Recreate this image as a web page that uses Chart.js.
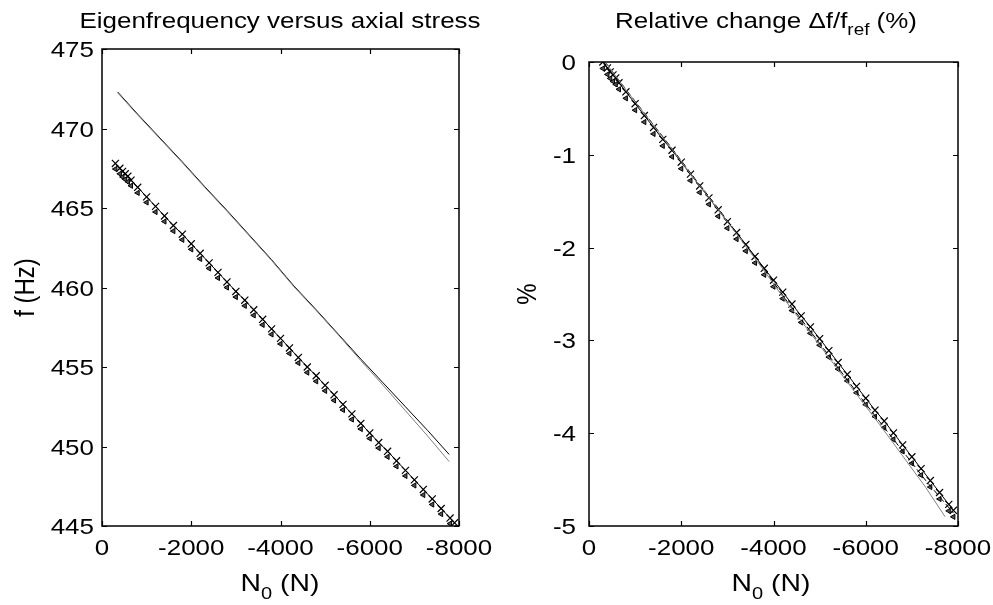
<!DOCTYPE html>
<html>
<head>
<meta charset="utf-8">
<script src="https://cdn.jsdelivr.net/npm/chart.js@4.4.1/dist/chart.umd.min.js"></script>
<style>
  html, body { margin: 0; padding: 0; background: #fff; }
  #wrap { position: relative; width: 993px; height: 605px; }
  .pane { position: absolute; top: 0; }
  #left { left: 0; }
  #right { left: 496px; }
</style>
</head>
<body>
<div id="wrap">
  <div class="pane" id="left"><canvas id="freqChart" width="496" height="605"></canvas></div>
  <div class="pane" id="right"><canvas id="relChart" width="497" height="605"></canvas></div>
</div>
<script>
// axial load N0 (N) of the marked measurement series
const loadPoints = [-300, -400, -460, -520, -580, -650, -800, -1000, -1200, -1400, -1600, -1800, -2000,
  -2200, -2400, -2600, -2800, -3000, -3200, -3400, -3600, -3800, -4000, -4200, -4400, -4600, -4800,
  -5000, -5200, -5400, -5600, -5800, -6000, -6200, -6400, -6600, -6800, -7000, -7200, -7400, -7600,
  -7800, -7900];
// eigenfrequency (Hz), x markers
const freqMarked = [467.8, 467.5, 467.3, 467.15, 467.0, 466.75, 466.3, 465.7, 465.1, 464.5, 463.9,
  463.35, 462.75, 462.15, 461.55, 460.95, 460.35, 459.75, 459.2, 458.6, 458.0, 457.4, 456.8, 456.2,
  455.6, 455.0, 454.45, 453.85, 453.25, 452.65, 452.05, 451.45, 450.85, 450.25, 449.7, 449.1, 448.5,
  447.9, 447.3, 446.7, 446.1, 445.5, 445.2];
// eigenfrequency (Hz), triangle markers
const freqTriangles = [467.45, 467.15, 466.95, 466.8, 466.65, 466.4, 465.95, 465.35, 464.75, 464.15,
  463.55, 463.0, 462.4, 461.8, 461.2, 460.6, 460.0, 459.4, 458.85, 458.25, 457.65, 457.05, 456.45,
  455.85, 455.25, 454.65, 454.1, 453.5, 452.9, 452.3, 451.7, 451.1, 450.5, 449.9, 449.35, 448.75,
  448.15, 447.55, 446.95, 446.35, 445.75, 445.15, 444.85];
// the two upper curves
const loadLines = [-350, -800, -1300, -1800, -2300, -2800, -3300, -3800, -4300, -4800, -5300, -5800,
  -6300, -6800, -7300, -7780];
const freqLineA = [472.3, 470.9, 469.4, 467.9, 466.35, 464.85, 463.3, 461.75, 460.1, 458.6, 457.05,
  455.5, 454.0, 452.5, 451.0, 449.5];
const freqLineB = [472.25, 470.85, 469.35, 467.85, 466.3, 464.8, 463.25, 461.7, 460.05, 458.55, 457.0,
  455.4, 453.85, 452.25, 450.65, 449.05];

// relative change (%)
const relMarked = [0, -0.064, -0.107, -0.139, -0.171, -0.224, -0.321, -0.449, -0.577, -0.705, -0.834,
  -0.951, -1.080, -1.208, -1.336, -1.464, -1.593, -1.721, -1.838, -1.967, -2.095, -2.223, -2.351,
  -2.480, -2.608, -2.736, -2.854, -2.982, -3.110, -3.239, -3.367, -3.495, -3.623, -3.752, -3.869,
  -3.997, -4.126, -4.254, -4.382, -4.510, -4.639, -4.767, -4.831];
const relTriangles = [-0.07, -0.134, -0.177, -0.209, -0.241, -0.294, -0.391, -0.519, -0.647, -0.775,
  -0.904, -1.021, -1.150, -1.278, -1.406, -1.534, -1.663, -1.791, -1.908, -2.037, -2.165, -2.293,
  -2.421, -2.550, -2.678, -2.806, -2.924, -3.052, -3.180, -3.309, -3.437, -3.565, -3.693, -3.822,
  -3.939, -4.067, -4.196, -4.324, -4.452, -4.580, -4.709, -4.837, -4.901];
const relLoadA = [-350, -800, -1300, -1800, -2300, -2800, -3300, -3800, -4300, -4800, -5300, -5800,
  -6300, -6800, -7300, -7900];
const relLineA = [0, -0.296, -0.614, -0.932, -1.260, -1.577, -1.906, -2.234, -2.583, -2.901, -3.229,
  -3.557, -3.875, -4.192, -4.510, -4.86];
const relLoadB = [-350, -800, -1300, -1800, -2300, -2800, -3300, -3800, -4300, -4800, -5300, -5800,
  -6300, -6800, -7300, -7720];
const relLineB = [0, -0.30, -0.62, -0.94, -1.27, -1.59, -1.92, -2.25, -2.60, -2.92, -3.25, -3.58,
  -3.906, -4.245, -4.584, -4.90];

// tick labels
const loadTicks = [0, -2000, -4000, -6000, -8000];
const freqTicks = [475, 470, 465, 460, 455, 450, 445];
const relTicks = [0, -1, -2, -3, -4, -5];

const FONT = '"Liberation Sans", Arial, Helvetica, sans-serif';
const SX = 1.18; // the original figure text is a bit wide

const pts = (xs, ys) => xs.map((v, i) => ({ x: v, y: ys[i] }));

function wideText(ctx, str, x, y, align) {
    ctx.save();
    ctx.translate(x, y);
    ctx.scale(SX, 1);
    ctx.textAlign = align;
    ctx.textBaseline = 'alphabetic';
    ctx.fillText(str, 0, 0);
    ctx.restore();
}

// text made of parts, some of them subscript
function drawParts(ctx, parts, cx, y, size) {
    const subSize = Math.round(size * 0.72);
    const widths = parts.map(p => {
        ctx.font = `${p.sub ? subSize : size}px ${FONT}`;
        return ctx.measureText(p.t).width * SX;
    });
    let x = cx - widths.reduce((a, b) => a + b, 0) / 2;
    parts.forEach((p, i) => {
        ctx.font = `${p.sub ? subSize : size}px ${FONT}`;
        wideText(ctx, p.t, x, y + (p.sub ? Math.round(size * 0.32) : 0), 'left');
        x += widths[i];
    });
}

// box, inward ticks and labels in the old MATLAB look
const matlabAxes = {
    id: 'matlabAxes',
    afterDatasetsDraw(chart, args, o) {
        const { ctx, chartArea: a } = chart;
        const x = chart.scales.x, y = chart.scales.y;
        ctx.save();
        ctx.strokeStyle = '#000';
        ctx.lineWidth = 1.5;
        ctx.strokeRect(a.left, a.top, a.right - a.left, a.bottom - a.top);

        ctx.lineWidth = 1.2;
        ctx.beginPath();
        o.xTicks.forEach(v => {
            const px = Math.round(x.getPixelForValue(v)) + 0.5;
            ctx.moveTo(px, a.bottom); ctx.lineTo(px, a.bottom - 5);
            ctx.moveTo(px, a.top); ctx.lineTo(px, a.top + 5);
        });
        o.yTicks.forEach(v => {
            const py = Math.round(y.getPixelForValue(v)) + 0.5;
            ctx.moveTo(a.left, py); ctx.lineTo(a.left + 5, py);
            ctx.moveTo(a.right, py); ctx.lineTo(a.right - 5, py);
        });
        ctx.stroke();

        ctx.fillStyle = '#000';
        ctx.font = `22px ${FONT}`;
        o.xTicks.forEach(v => wideText(ctx, String(v), x.getPixelForValue(v), a.bottom + 29, 'center'));
        o.yTicks.forEach(v => wideText(ctx, String(v), a.left - o.yGap, y.getPixelForValue(v) + 8, 'right'));

        drawParts(ctx, o.title, o.titleX, 28, 22);
        drawParts(ctx, [{ t: 'N' }, { t: '0', sub: true }, { t: ' (N)' }], o.xLabelX, a.bottom + 65, 24);

        ctx.font = `24px ${FONT}`;
        ctx.save();
        ctx.translate(o.yLabelX, (a.top + a.bottom) / 2);
        ctx.scale(SX, 1);
        ctx.rotate(-Math.PI / 2);
        ctx.textAlign = 'center';
        ctx.textBaseline = 'middle';
        ctx.fillText(o.yLabel, 0, 0);
        ctx.restore();
        ctx.restore();
    }
};

const hiddenScale = (min, max, reverse) => ({
    type: 'linear', display: false, min: min, max: max, reverse: reverse
});

function baseOptions(padding, yMin, yMax, axes) {
    return {
        responsive: false,
        animation: false,
        layout: { padding: padding },
        scales: {
            x: hiddenScale(-8000, 0, true),
            y: hiddenScale(yMin, yMax, false),
        },
        plugins: {
            legend: { display: false },
            tooltip: { enabled: false },
            matlabAxes: axes,
        },
    };
}

const markedStyle = {
    showLine: true, borderColor: '#000', borderWidth: 1,
    pointStyle: 'crossRot', pointRadius: 5, pointBorderWidth: 1.2, pointBorderColor: '#000',
};
const triangleStyle = {
    showLine: false, pointStyle: 'triangle', rotation: -90, pointRadius: 3,
    pointBorderWidth: 1, pointBorderColor: '#000', pointBackgroundColor: '#555',
};

new Chart(document.getElementById('freqChart'), {
    type: 'scatter',
    data: {
        datasets: [
            { data: pts(loadLines, freqLineB), showLine: true, borderColor: '#808080', borderWidth: 1, pointRadius: 0 },
            { data: pts(loadLines, freqLineA), showLine: true, borderColor: '#000', borderWidth: 1, pointRadius: 0 },
            Object.assign({ data: pts(loadPoints, freqTriangles) }, triangleStyle),
            Object.assign({ data: pts(loadPoints, freqMarked) }, markedStyle),
        ],
    },
    options: baseOptions({ left: 102, top: 49, right: 37, bottom: 79 }, 445, 475, {
        xTicks: loadTicks, yTicks: freqTicks, yGap: 8,
        title: [{ t: 'Eigenfrequency versus axial stress' }], titleX: 280,
        xLabelX: 280, yLabel: 'f (Hz)', yLabelX: 26,
    }),
    plugins: [matlabAxes],
});

new Chart(document.getElementById('relChart'), {
    type: 'scatter',
    data: {
        datasets: [
            { data: pts(relLoadB, relLineB), showLine: true, borderColor: '#808080', borderWidth: 1, pointRadius: 0 },
            { data: pts(relLoadA, relLineA), showLine: true, borderColor: '#000', borderWidth: 1, borderDash: [6, 3], pointRadius: 0 },
            Object.assign({ data: pts(loadPoints, relTriangles) }, triangleStyle),
            Object.assign({ data: pts(loadPoints, relMarked) }, markedStyle),
        ],
    },
    options: baseOptions({ left: 93, top: 62, right: 35, bottom: 79 }, -5, 0, {
        xTicks: loadTicks, yTicks: relTicks, yGap: 13,
        title: [{ t: 'Relative change \u0394f/f' }, { t: 'ref', sub: true }, { t: ' (%)' }], titleX: 270,
        xLabelX: 275, yLabel: '%', yLabelX: 32,
    }),
    plugins: [matlabAxes],
});
</script>
</body>
</html>
